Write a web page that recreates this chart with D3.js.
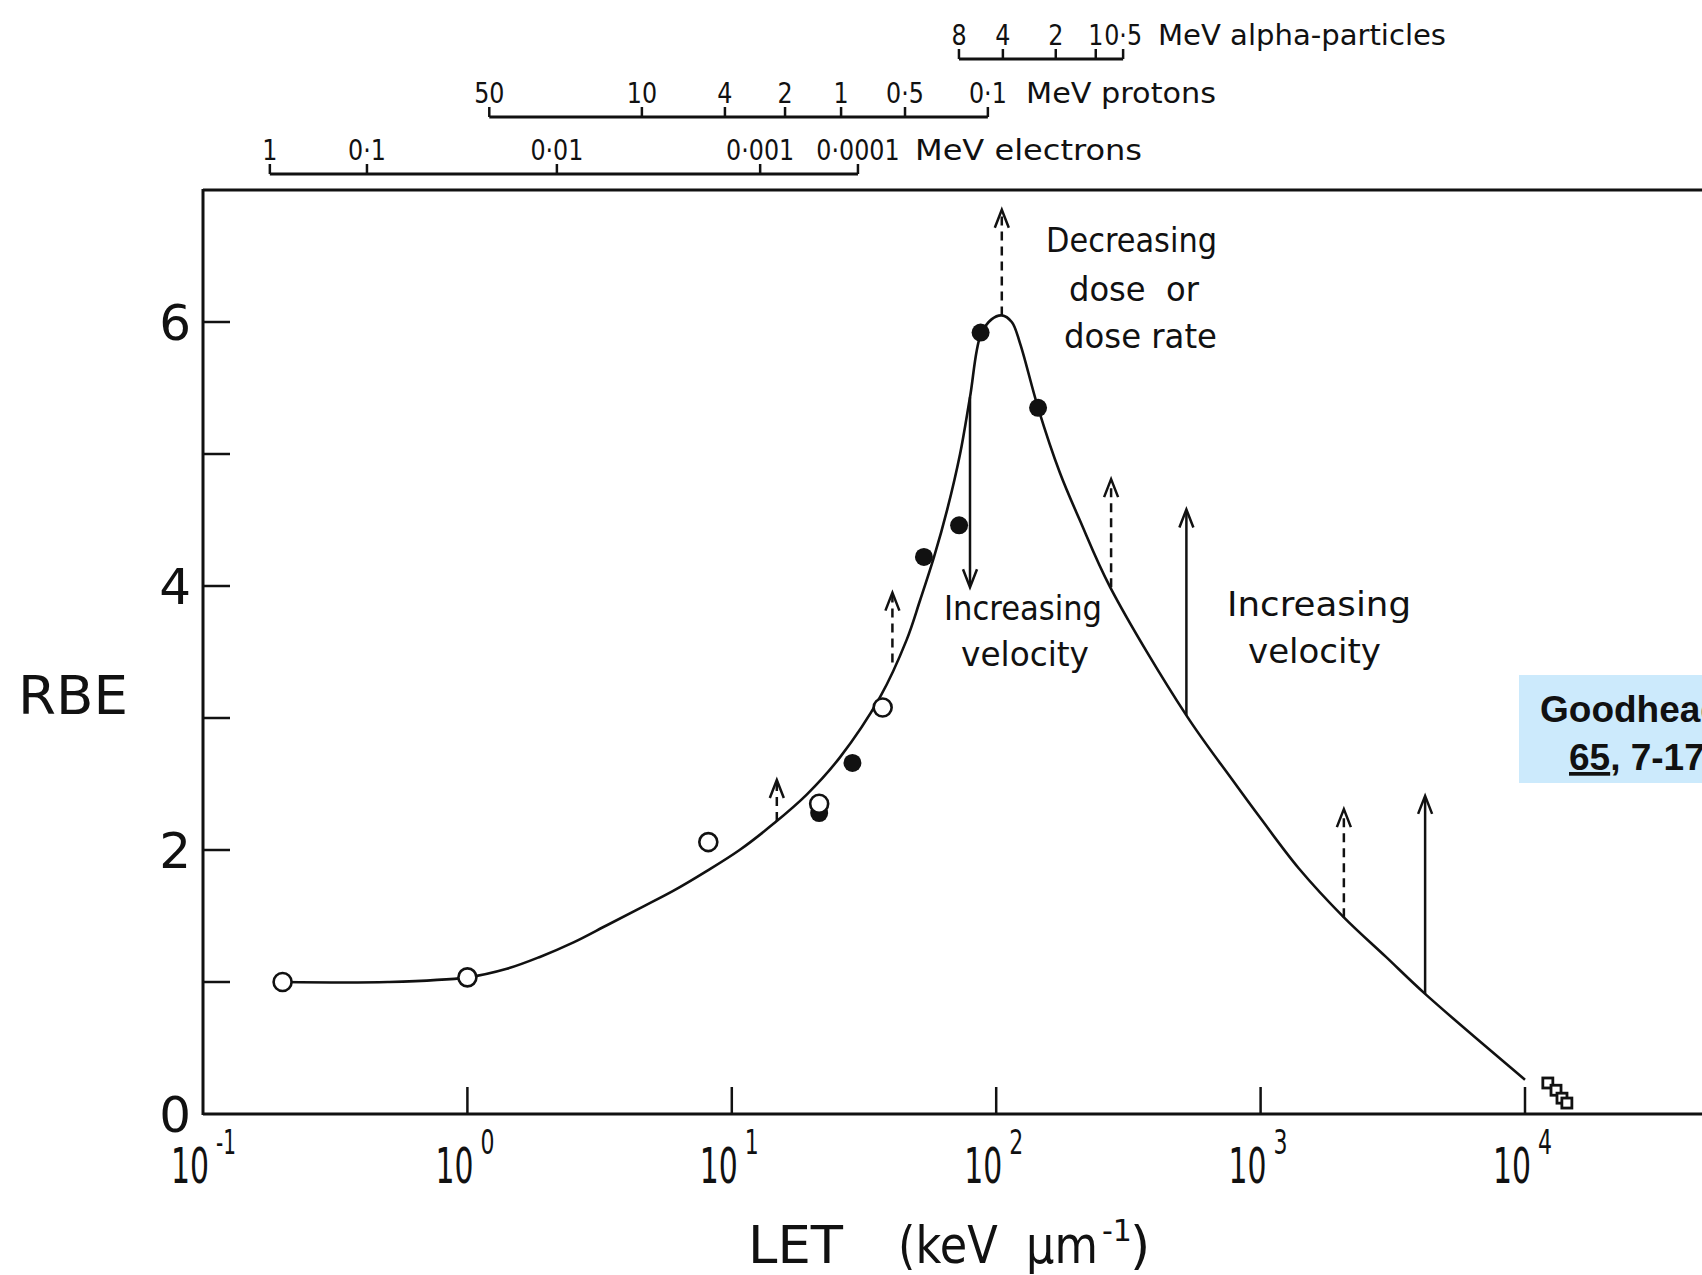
<!DOCTYPE html>
<html>
<head>
<meta charset="utf-8">
<script src="https://cdn.jsdelivr.net/npm/d3@7/dist/d3.min.js"></script>
<style>
  body { margin: 0; background: #fff; overflow: hidden; }
  svg text { font-family: "DejaVu Sans", Verdana, sans-serif; fill: #111; white-space: pre; }
</style>
</head>
<body>
<svg id="chart" width="1702" height="1275"></svg>
<script>
// fitted curve (LET keV/um, RBE)
const curveLET = [0.2, 0.5, 1.0, 1.41, 1.88, 2.52, 3.37, 4.5, 6.0, 8.03, 10.7, 14.4, 19.2, 25.6, 36.4, 45.8, 51.5, 58.2, 65.3, 73, 79.6, 87.3, 96, 105, 114.5, 123, 144, 174, 207, 270, 524, 783, 1000, 1396, 2065, 2980, 4190, 10000];
const curveRBE = [1.0, 1.0, 1.035, 1.10, 1.19, 1.30, 1.43, 1.56, 1.69, 1.84, 2.0, 2.20, 2.42, 2.70, 3.16, 3.59, 3.89, 4.22, 4.58, 5.0, 5.43, 5.9, 6.02, 6.05, 6.0, 5.84, 5.35, 4.86, 4.5, 3.99, 3.02, 2.53, 2.24, 1.86, 1.49, 1.19, 0.91, 0.26];

// measured points
const filledLET = [21.4, 28.6, 53.3, 72.4, 87.3, 144];
const filledRBE = [2.28, 2.66, 4.22, 4.46, 5.92, 5.35];
const openLET = [0.2, 1.0, 8.15, 21.4, 37.2];
const openRBE = [1.0, 1.035, 2.06, 2.35, 3.08];
const squareLET = [12200, 13100, 13800, 14400];
const squareRBE = [0.235, 0.18, 0.12, 0.083];

// arrows: dashed = dose / dose rate, solid = increasing velocity
const arrowLET = [14.8, 40.5, 79.6, 105, 272, 524, 2065, 4190];
const arrowFrom = [2.22, 3.42, 5.43, 6.05, 3.99, 3.02, 1.49, 0.91];
const arrowTo = [2.53, 3.95, 3.99, 6.85, 4.81, 4.58, 2.31, 2.41];
const arrowKind = ["dose", "dose", "velocity", "dose", "dose", "velocity", "dose", "velocity"];

// particle energy scales on top (MeV labels and the LET they sit at)
const alphaMeV = ["8", "4", "2", "1", "0·5"];
const alphaLET = [72.3, 106, 168, 238, 302];
const protonMeV = ["50", "10", "4", "2", "1", "0·5", "0·1"];
const protonLET = [1.21, 4.57, 9.42, 15.9, 25.9, 45.2, 93];
const electronMeV = ["1", "0·1", "0·01", "0·001", "0·0001"];
const electronLET = [0.179, 0.417, 2.18, 12.8, 30];

const xTickExp = [-1, 0, 1, 2, 3, 4];
const yTicks = [1, 2, 3, 4, 5, 6];
const yLabels = [0, 2, 4, 6];

const W = 1702, H = 1275;
const plotLeft = 203, plotTop = 190, plotBottom = 1114;

const svg = d3.select("#chart");
const x = d3.scaleLog().domain([0.1, 1e4]).range([plotLeft, 1525]);
const y = d3.scaleLinear().domain([0, 7]).range([plotBottom, plotTop]);

function fit(sel, w) {
  return sel.attr("textLength", w).attr("lengthAdjust", "spacingAndGlyphs");
}
function squeeze(sel, f) {
  sel.each(function() {
    const l = this.getComputedTextLength();
    d3.select(this).attr("textLength", l * f).attr("lengthAdjust", "spacingAndGlyphs");
  });
}

// frame (the right edge is cut off in the original)
const frame = svg.append("g").attr("stroke", "#111").attr("stroke-width", 3).attr("fill", "none");
frame.append("line").attr("x1", plotLeft).attr("x2", plotLeft).attr("y1", plotTop - 1).attr("y2", plotBottom + 1);
frame.append("line").attr("x1", plotLeft).attr("x2", W).attr("y1", plotTop).attr("y2", plotTop);
frame.append("line").attr("x1", plotLeft).attr("x2", W).attr("y1", plotBottom).attr("y2", plotBottom);

// y ticks inward
svg.append("g").selectAll("line").data(yTicks).join("line")
  .attr("x1", plotLeft).attr("x2", plotLeft + 27)
  .attr("y1", d => y(d)).attr("y2", d => y(d))
  .attr("stroke", "#111").attr("stroke-width", 2.5);
svg.append("g").selectAll("text").data(yLabels).join("text")
  .attr("x", 191).attr("y", d => y(d)).attr("dy", "0.36em")
  .attr("text-anchor", "end").attr("font-size", 50)
  .text(d => d);

// x ticks inward
svg.append("g").selectAll("line").data(xTickExp.filter(e => e >= 0)).join("line")
  .attr("x1", d => x(Math.pow(10, d))).attr("x2", d => x(Math.pow(10, d)))
  .attr("y1", plotBottom).attr("y2", plotBottom - 27)
  .attr("stroke", "#111").attr("stroke-width", 2.5);
const xl = svg.append("g");
xTickExp.forEach(e => {
  const px = x(Math.pow(10, e));
  fit(xl.append("text").attr("x", px + 6).attr("y", 1183)
    .attr("text-anchor", "end").attr("font-size", 50).text("10"), 38);
  fit(xl.append("text").attr("x", px + 13).attr("y", 1154)
    .attr("font-size", 33).text(e < 0 ? "-" + (-e) : e), e < 0 ? 20 : 14);
});

// axis titles
fit(svg.append("text").attr("x", 18).attr("y", 714).attr("font-size", 53).text("RBE"), 110);
fit(svg.append("text").attr("x", 748).attr("y", 1263).attr("font-size", 52).text("LET"), 95);
fit(svg.append("text").attr("x", 898).attr("y", 1263).attr("font-size", 52).text("(keV  μm"), 200);
svg.append("text").attr("x", 1102).attr("y", 1241).attr("font-size", 30).text("-1");
svg.append("text").attr("x", 1130).attr("y", 1263).attr("font-size", 52).text(")");

// top energy scales
function energyScale(labels, lets, lineY, unit, unitX, unitW) {
  const g = svg.append("g");
  const xs = lets.map(d => x(d));
  g.append("line").attr("x1", xs[0]).attr("x2", xs[xs.length - 1])
    .attr("y1", lineY).attr("y2", lineY).attr("stroke", "#111").attr("stroke-width", 3);
  g.selectAll("line.t").data(xs).join("line").attr("class", "t")
    .attr("x1", d => d).attr("x2", d => d).attr("y1", lineY).attr("y2", lineY - 10)
    .attr("stroke", "#111").attr("stroke-width", 2.5);
  const t = g.selectAll("text.n").data(labels).join("text").attr("class", "n")
    .attr("x", (d, i) => xs[i]).attr("y", lineY - 14)
    .attr("text-anchor", "middle").attr("font-size", 28).text(d => d);
  squeeze(t, 0.85);
  fit(g.append("text").attr("x", unitX).attr("y", lineY - 14).attr("font-size", 28).text(unit), unitW);
}
energyScale(alphaMeV, alphaLET, 59, "MeV alpha-particles", 1158, 288);
energyScale(protonMeV, protonLET, 117, "MeV protons", 1026, 190);
energyScale(electronMeV, electronLET, 174, "MeV electrons", 915, 227);

// curve
const line = d3.line().x(d => x(d[0])).y(d => y(d[1])).curve(d3.curveCatmullRom.alpha(0.5));
svg.append("path").datum(curveLET.map((d, i) => [d, curveRBE[i]]))
  .attr("d", line).attr("fill", "none").attr("stroke", "#111").attr("stroke-width", 2.6);

// arrows
const ag = svg.append("g").attr("fill", "none").attr("stroke", "#111").attr("stroke-width", 2.5);
arrowLET.forEach((L, i) => {
  const px = x(L), y0 = y(arrowFrom[i]), y1 = y(arrowTo[i]);
  const dir = y1 < y0 ? 1 : -1;
  ag.append("line").attr("x1", px).attr("x2", px).attr("y1", y0).attr("y2", y1 + dir * 2)
    .attr("stroke-dasharray", arrowKind[i] === "dose" ? "9,6" : null);
  ag.append("path").attr("d", `M${px - 7},${y1 + dir * 18}L${px},${y1}L${px + 7},${y1 + dir * 18}`);
});

// points
svg.append("g").selectAll("circle").data(filledLET).join("circle")
  .attr("cx", d => x(d)).attr("cy", (d, i) => y(filledRBE[i])).attr("r", 9).attr("fill", "#111");
svg.append("g").selectAll("circle").data(openLET).join("circle")
  .attr("cx", d => x(d)).attr("cy", (d, i) => y(openRBE[i])).attr("r", 9)
  .attr("fill", "#fff").attr("stroke", "#111").attr("stroke-width", 2.6);
svg.append("g").selectAll("rect").data(squareLET).join("rect")
  .attr("x", d => x(d) - 5).attr("y", (d, i) => y(squareRBE[i]) - 5)
  .attr("width", 10).attr("height", 10)
  .attr("fill", "#fff").attr("stroke", "#111").attr("stroke-width", 2.8);

// annotations
const notes = [
  ["Decreasing", 1046, 252, 171], ["dose  or", 1069, 301, 130], ["dose rate", 1064, 348, 153],
  ["Increasing", 944, 620, 158], ["velocity", 961, 666, 128],
  ["Increasing", 1227, 616, 184], ["velocity", 1248, 663, 133]
];
notes.forEach(n => fit(svg.append("text").attr("x", n[1]).attr("y", n[2]).attr("font-size", 34).text(n[0]), n[3]));

// reference box
svg.append("rect").attr("x", 1519).attr("y", 675).attr("width", 200).attr("height", 108).attr("fill", "#cceafc");
const ref = svg.append("g").style("font-family", "'Liberation Sans', Arial, sans-serif")
  .attr("font-weight", "bold").attr("font-size", 37);
ref.append("text").attr("x", 1540).attr("y", 722).style("font-family", "inherit").text("Goodhead, Int. J. Radiat. Biol.");
const r2 = ref.append("text").attr("x", 1569).attr("y", 770).style("font-family", "inherit");
r2.append("tspan").attr("text-decoration", "underline").text("65");
r2.append("tspan").text(", 7-17 (1994)");
</script>
</body>
</html>
